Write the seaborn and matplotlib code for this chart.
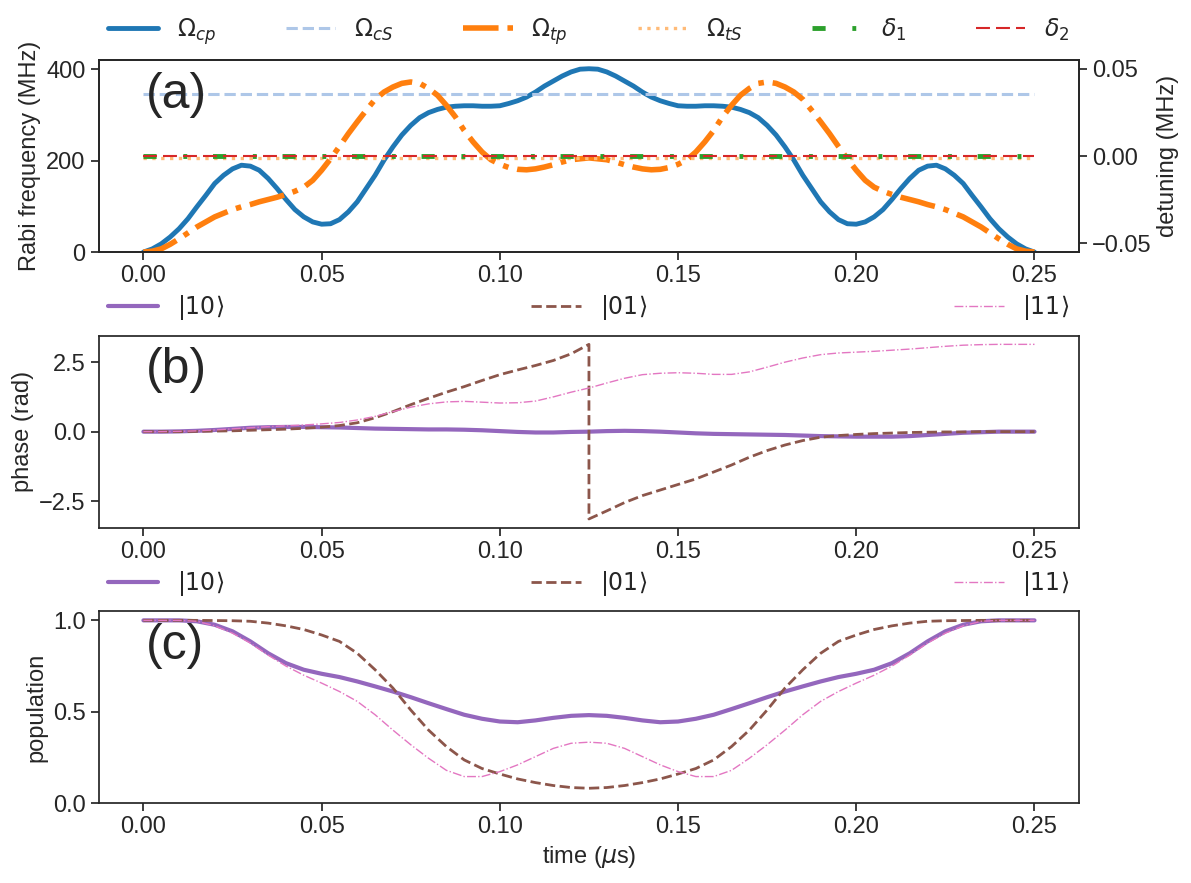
import numpy as np
import matplotlib
matplotlib.use("Agg")
import matplotlib.pyplot as plt
import seaborn as sns

# time grids (us)
t = np.linspace(0, 0.25, 51)      # 0.005 step
t_fine = np.linspace(0, 0.25, 101)  # 0.0025 step, pulses in (a)

# panel (a): Rabi frequencies (MHz)
omega_cp = [0, 7, 18, 33, 51, 73, 99, 124, 150, 168, 182, 190, 188, 179, 161, 139, 115, 93, 77,
            66, 61, 62, 71, 88, 110, 139, 168, 201, 230, 256, 277, 294, 305, 312, 317, 319, 320,
            320, 319, 319, 320, 325, 331, 339, 350, 363, 374, 385, 394, 400, 401,
            400, 394, 385, 374, 363, 350, 339, 331, 325, 320, 319, 319, 320, 320, 319, 317, 312,
            305, 294, 277, 256, 230, 201, 168, 139, 110, 88, 71, 62, 61, 66, 77, 93, 115, 139,
            161, 179, 188, 190, 182, 168, 150, 124, 99, 73, 51, 33, 18, 7, 0]
omega_tp = [0, 2, 7, 17, 29, 42, 55, 66, 77, 85, 93, 99, 104, 110, 115, 120, 126, 133, 142, 157,
            179, 204, 231, 259, 285, 310, 334, 350, 361, 369, 372, 369, 358, 343, 321, 296, 266,
            241, 219, 202, 192, 185, 181, 180, 182, 186, 191, 197, 202, 204, 206,
            204, 202, 197, 191, 186, 182, 180, 181, 185, 192, 202, 219, 241, 266, 296, 321, 343,
            358, 369, 372, 369, 361, 350, 334, 310, 285, 259, 231, 204, 179, 157, 142, 133, 126,
            120, 115, 110, 104, 99, 93, 85, 77, 66, 55, 42, 29, 17, 7, 2, 0]
t_flat = [0.0, 0.25]
omega_cs = [346, 346]
omega_ts = [206, 206]
delta1 = [0.0, 0.0]
delta2 = [0.0, 0.0]

# panel (b): phases (rad)
phase10 = [0, 0.0, 0.01, 0.03, 0.06, 0.1, 0.14, 0.16, 0.17, 0.17, 0.16, 0.15, 0.13, 0.11, 0.1,
           0.09, 0.08, 0.08, 0.07, 0.05, 0.02, -0.01, -0.03, -0.03, -0.01, 0.0, 0.02, 0.03, 0.02,
           0.0, -0.03, -0.06, -0.08, -0.09, -0.1, -0.11, -0.12, -0.14, -0.16, -0.17, -0.18, -0.18,
           -0.18, -0.16, -0.12, -0.08, -0.04, -0.02, 0.0, 0.0, 0.0]
phase01_first = [0, 0.0, 0.0, 0.01, 0.02, 0.03, 0.05, 0.07, 0.09, 0.12, 0.16, 0.22, 0.32, 0.5,
                 0.72, 0.97, 1.2, 1.42, 1.62, 1.84, 2.05, 2.22, 2.38, 2.56, 2.8, 3.14]
phase01_second = [-3.14, -2.85, -2.55, -2.3, -2.1, -1.9, -1.7, -1.45, -1.2, -0.92, -0.68, -0.48,
                  -0.32, -0.2, -0.14, -0.1, -0.07, -0.05, -0.03, -0.02, -0.01, -0.01, 0.0, 0.0,
                  0.0, 0.0]
phase11 = [0, 0.0, 0.01, 0.03, 0.06, 0.1, 0.14, 0.18, 0.21, 0.24, 0.28, 0.33, 0.42, 0.55, 0.72,
           0.88, 1.0, 1.07, 1.09, 1.06, 1.03, 1.04, 1.1, 1.25, 1.42, 1.57, 1.75, 1.92, 2.05, 2.1,
           2.12, 2.1, 2.06, 2.06, 2.15, 2.32, 2.5, 2.65, 2.77, 2.83, 2.86, 2.89, 2.93, 2.97, 3.02,
           3.07, 3.11, 3.13, 3.14, 3.14, 3.14]

# panel (c): populations
pop10 = [1.0, 1.0, 1.0, 0.995, 0.976, 0.94, 0.885, 0.82, 0.766, 0.73, 0.708, 0.69, 0.666, 0.639,
         0.611, 0.58, 0.547, 0.515, 0.484, 0.462, 0.447, 0.443, 0.453, 0.467, 0.478, 0.482,
         0.478, 0.467, 0.453, 0.443, 0.447, 0.462, 0.484, 0.515, 0.547, 0.58, 0.611, 0.639,
         0.666, 0.69, 0.708, 0.73, 0.766, 0.82, 0.885, 0.94, 0.976, 0.995, 1.0, 1.0, 1.0]
pop01 = [1.0, 1.0, 1.0, 1.0, 0.999, 0.998, 0.995, 0.985, 0.97, 0.95, 0.92, 0.885, 0.82, 0.73,
         0.63, 0.51, 0.40, 0.31, 0.237, 0.19, 0.16, 0.133, 0.113, 0.097, 0.086, 0.082, 0.086,
         0.097, 0.113, 0.133, 0.16, 0.19, 0.237, 0.31, 0.40, 0.51, 0.63, 0.73, 0.82, 0.885, 0.92,
         0.95, 0.97, 0.985, 0.995, 0.998, 0.999, 1.0, 1.0, 1.0, 1.0]
pop11 = [1.0, 1.0, 1.0, 0.995, 0.97, 0.93, 0.876, 0.81, 0.75, 0.70, 0.657, 0.611, 0.557, 0.484,
         0.40, 0.32, 0.246, 0.18, 0.146, 0.146, 0.173, 0.21, 0.255, 0.30, 0.328, 0.334, 0.328,
         0.30, 0.255, 0.21, 0.173, 0.146, 0.146, 0.18, 0.246, 0.32, 0.40, 0.484, 0.557, 0.611,
         0.657, 0.70, 0.75, 0.81, 0.876, 0.93, 0.97, 0.995, 1.0, 1.0, 1.0]

state_labels = [r"$|10\rangle$", r"$|01\rangle$", r"$|11\rangle$"]

sns.set_theme(style="ticks")
plt.rcParams["font.family"] = ["Liberation Sans", "DejaVu Sans"]
plt.rcParams["xtick.labelsize"] = 17
plt.rcParams["ytick.labelsize"] = 17
plt.rcParams["axes.labelsize"] = 17
plt.rcParams["legend.fontsize"] = 17
plt.rcParams["lines.solid_joinstyle"] = "round"

fig, axes = plt.subplots(3, 1, figsize=(11.91, 8.83), dpi=100)
fig.subplots_adjust(left=0.083, right=0.906, top=0.932, bottom=0.0903, hspace=0.435)


def linha(ax, x, y, **kw):
    sns.lineplot(x=x, y=y, ax=ax, estimator=None, sort=False, legend=False, **kw)


def legenda(ax, handles, labels):
    ax.legend(handles, labels, loc="lower left", bbox_to_anchor=(0, 1.02, 1, 0.2),
              mode="expand", ncol=len(handles), frameon=False, borderaxespad=0,
              handlelength=2.1)


# (a)
ax = axes[0]
linha(ax, t_fine, omega_cp, color="#1f77b4", lw=3.5, label=r"$\Omega_{cp}$")
linha(ax, t_flat, omega_cs, color="#aec7e8", lw=2.2, linestyle="--", label=r"$\Omega_{cS}$")
linha(ax, t_fine, omega_tp, color="#ff7f0e", lw=4, linestyle="-.", label=r"$\Omega_{tp}$")
linha(ax, t_flat, omega_ts, color="#ffbb78", lw=2.4, linestyle=":", label=r"$\Omega_{tS}$")
ax.set_ylim(0, 420)
ax.set_yticks([0, 200, 400])
ax.set_ylabel("Rabi frequency (MHz)")
ax2 = ax.twinx()
linha(ax2, t_flat, delta1, color="#2ca02c", lw=3.5, linestyle=(0, (2.7, 5.5, 0.8, 5.3)),
      label=r"$\delta_1$")
linha(ax2, t_flat, delta2, color="#d62728", lw=1.5, linestyle=(0, (6.7, 2.9)),
      label=r"$\delta_2$")
ax2.set_ylim(-0.055, 0.055)
ax2.set_yticks([-0.05, 0.0, 0.05])
ax2.set_ylabel("detuning (MHz)")
h1, l1 = ax.get_legend_handles_labels()
h2, l2 = ax2.get_legend_handles_labels()
legenda(ax, h1 + h2, l1 + l2)
ax.text(0.048, 0.82, "(a)", transform=ax.transAxes, fontsize=36, va="center")

# (b)
ax = axes[1]
t01 = np.concatenate([t[:26], t[25:]])
phase01 = phase01_first + phase01_second
linha(ax, t, phase10, color="#9467bd", lw=3, label=state_labels[0])
linha(ax, t01, phase01, color="#8c564b", lw=2, linestyle="--", label=state_labels[1])
linha(ax, t, phase11, color="#e377c2", lw=1, linestyle="-.", label=state_labels[2])
ax.set_yticks([-2.5, 0.0, 2.5])
ax.set_ylabel("phase (rad)")
h, l = ax.get_legend_handles_labels()
legenda(ax, h, l)
ax.text(0.048, 0.82, "(b)", transform=ax.transAxes, fontsize=36, va="center")

# (c)
ax = axes[2]
linha(ax, t, pop10, color="#9467bd", lw=3, label=state_labels[0])
linha(ax, t, pop01, color="#8c564b", lw=2, linestyle="--", label=state_labels[1])
linha(ax, t, pop11, color="#e377c2", lw=1, linestyle="-.", label=state_labels[2])
ax.set_ylim(0, 1.05)
ax.set_yticks([0.0, 0.5, 1.0])
ax.set_ylabel("population")
ax.set_xlabel(r"time ($\mu$s)")
h, l = ax.get_legend_handles_labels()
legenda(ax, h, l)
ax.text(0.048, 0.82, "(c)", transform=ax.transAxes, fontsize=36, va="center")

for a in axes:
    a.set_xticks([0.0, 0.05, 0.10, 0.15, 0.20, 0.25])
    a.set_xticklabels(["0.00", "0.05", "0.10", "0.15", "0.20", "0.25"])

fig.savefig("out.png", dpi=100)
